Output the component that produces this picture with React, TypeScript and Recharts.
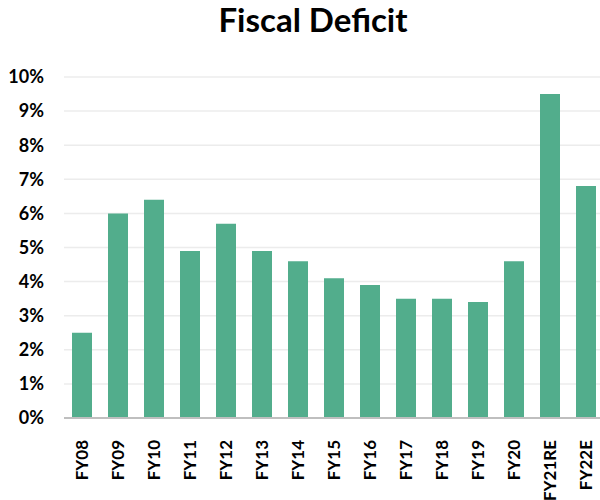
import { BarChart, Bar, XAxis, YAxis, CartesianGrid } from "recharts"

const years = ["FY08", "FY09", "FY10", "FY11", "FY12", "FY13", "FY14", "FY15", "FY16", "FY17", "FY18", "FY19", "FY20", "FY21RE", "FY22E"]
const deficit = [2.5, 6.0, 6.4, 4.9, 5.7, 4.9, 4.6, 4.1, 3.9, 3.5, 3.5, 3.4, 4.6, 9.5, 6.8]
const yTicks = [0, 1, 2, 3, 4, 5, 6, 7, 8, 9, 10]

const data = years.map((name, i) => ({ name, deficit: deficit[i] }))

const font = "Lato, 'Open Sans', sans-serif"

function XTick(props: any) {
  const { x, y, payload } = props
  return (
    <text
      x={x}
      y={y + 14}
      transform={`rotate(-90, ${x}, ${y + 14})`}
      textAnchor="end"
      dy="0.35em"
      fontSize={17}
      fontWeight={700}
      fontFamily={font}
      fill="#000"
    >
      {payload.value}
    </text>
  )
}

export default function App() {
  return (
    <div style={{ position: "fixed", left: 0, top: 0, width: 600, height: 500, overflow: "hidden", background: "#fff" }}>
      <div
        style={{
          position: "absolute",
          left: 0,
          top: -1,
          width: 626,
          textAlign: "center",
          fontFamily: font,
          fontWeight: 700,
          fontSize: 33,
          color: "#000",
        }}
      >
        Fiscal Deficit
      </div>
      <BarChart width={610} height={500} data={data} margin={{ top: 77, right: 6, left: 0, bottom: 0 }}>
        <CartesianGrid vertical={false} stroke="#ececec" strokeWidth={1.5} />
        <XAxis
          dataKey="name"
          height={82}
          interval={0}
          tick={<XTick />}
          tickLine={false}
          axisLine={{ stroke: "#bfbfbf", strokeWidth: 2 }}
        />
        <YAxis
          width={64}
          domain={[0, 10]}
          ticks={yTicks}
          tickFormatter={(v: number) => `${v}%`}
          axisLine={false}
          tickLine={false}
          tickSize={0}
          tickMargin={20}
          tick={{ fontSize: 18, fontWeight: 700, fontFamily: font, fill: "#000" }}
        />
        <Bar dataKey="deficit" fill="#52AD8C" barSize={20} isAnimationActive={false} />
      </BarChart>
    </div>
  )
}
